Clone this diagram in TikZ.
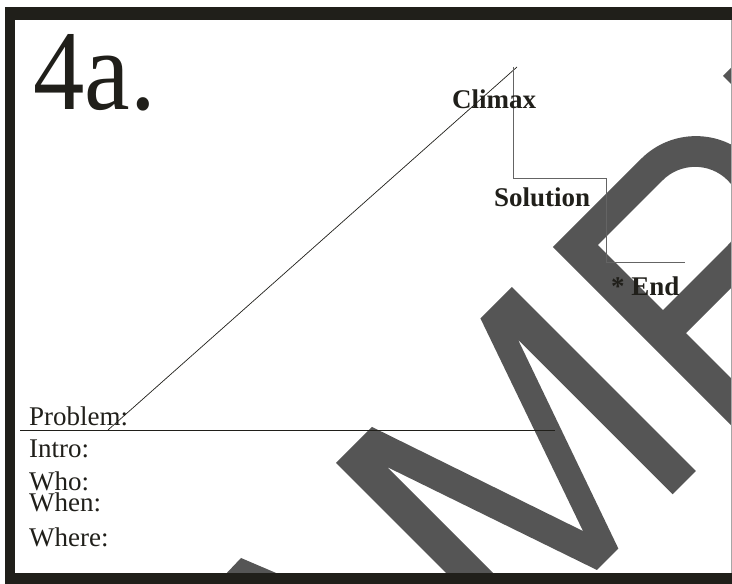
\documentclass[tikz,border=0pt]{standalone}
\usepackage{fontspec}
\setmainfont{Liberation Serif}
\usepackage{graphicx}
\definecolor{ink}{RGB}{32,31,26}
\definecolor{wm}{RGB}{85,85,85}
\definecolor{stair}{RGB}{100,100,100}
\begin{document}
\begin{tikzpicture}[x=1pt,y=1pt,
  lbl/.style={anchor=base west,inner sep=0pt,text=ink,font=\fontsize{27}{27}\selectfont},
  blbl/.style={anchor=base west,inner sep=0pt,text=ink,font=\fontsize{27}{27}\selectfont\bfseries},
  framebar/.style={fill=ink},
  wmark/.style={fill=wm},
  plotline/.style={draw=ink,line width=0.9pt},
  stairline/.style={draw=stair,line width=0.9pt}]
\useasboundingbox (0,0) rectangle (732,584);
\clip (0,0) rectangle (732,584);
% watermark (SAMPLE, rotated)
\begin{scope}[rotate=45]
  % M
  \fill[wmark] (323.2,-412.2) -- (323.2,-152) -- (374.1,-152) -- (449.7,-374.8)
     -- (527.5,-152) -- (572,-152) -- (572,-412.2) -- (539,-412.2) -- (539,-193.7)
     -- (462.3,-412.2) -- (432,-412.2) -- (356.4,-190.9) -- (356.4,-412.2) -- cycle;
  % P
  \fill[wmark,even odd rule] (629.3,-412.2) -- (629.3,-152.7) -- (754,-152.7)
     arc[start angle=90,end angle=-90,radius=77.5] -- (662.5,-307.7) -- (662.5,-412.2) -- cycle
     (662.5,-183.1) -- (754,-183.1) arc[start angle=90,end angle=-90,radius=46]
     -- (662.5,-275.1) -- cycle;
  % L
  \fill[wmark] (870.5,-412.2) -- (870.5,-152) -- (903.7,-152) -- (903.7,-379) -- (1000,-379) -- (1000,-412.2) -- cycle;
\end{scope}
% A apex
\fill[wmark] (205,-12) -- (241,26) -- (330,-12) -- cycle;
% frame
\fill[framebar] (5,564) rectangle (732,577);
\fill[framebar] (5,0) rectangle (15,577);
\fill[framebar] (5,0) rectangle (732,11);
\draw[gray!70,line width=0.8pt] (731.4,11) -- (731.4,564);
% coordinates
\coordinate (pstart) at (108,154);
\coordinate (peak) at (517,517);
\coordinate (hl) at (20,154);
\coordinate (hr) at (555,154);
\coordinate (s0) at (513,517);
\coordinate (s1) at (513,406);
\coordinate (s2) at (606,406);
\coordinate (s3) at (606,322);
\coordinate (s4) at (685,322);
% lines
\draw[plotline] (hl) -- (hr);
\draw[plotline,line width=0.7pt] (pstart) -- (peak);
\draw[stairline] (s0) -- (s1) -- (s2) -- (s3) -- (s4);
% texts
\node[anchor=base west,inner sep=0pt,text=ink,font=\fontsize{114}{114}\selectfont] (title) at (33,474) {\scalebox{0.9}[1]{4a.}};
\node[blbl] (climax) at (452,475) {Climax};
\node[blbl] (solution) at (494,377) {Solution};
\node[blbl] (end) at (611,288) {* End};
\node[lbl] (problem) at (29,158) {Problem:};
\node[lbl] (intro) at (29,126) {Intro:};
\node[lbl] (who) at (29,93) {Who:};
\node[lbl] (when) at (29,72) {When:};
\node[lbl] (where) at (29,37) {Where:};
\end{tikzpicture}
\end{document}
